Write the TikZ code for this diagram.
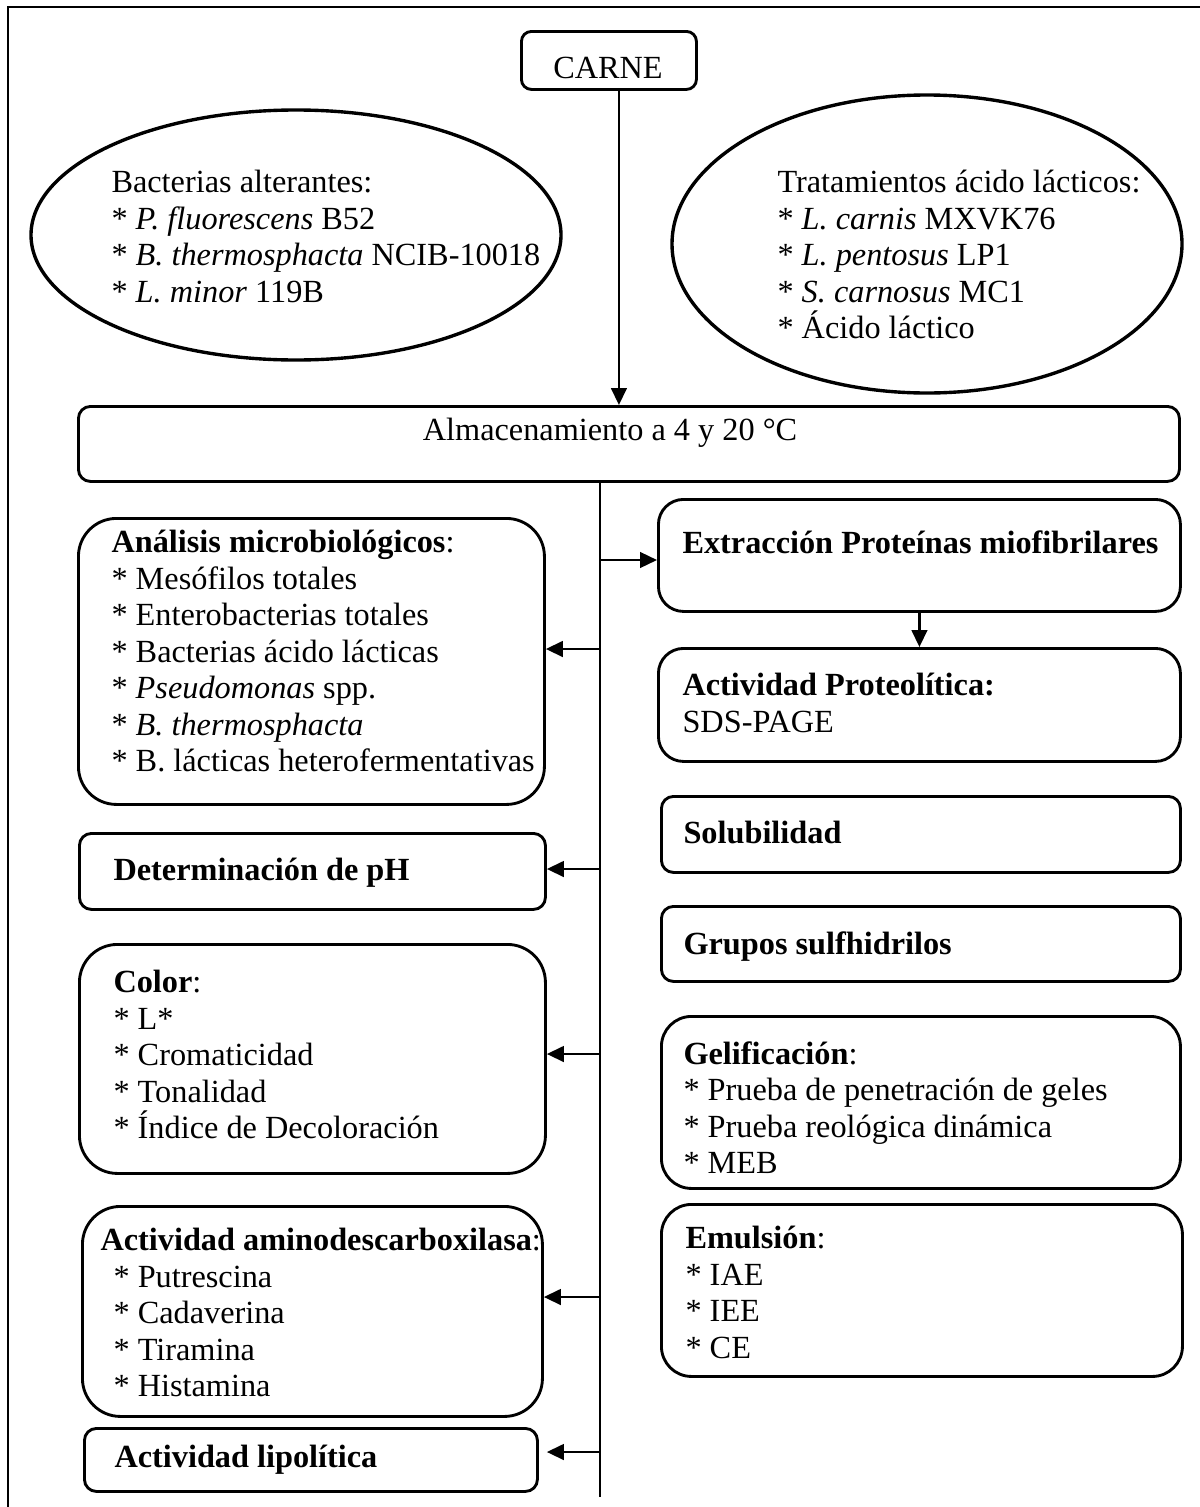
\documentclass[tikz,border=0pt]{standalone}
\usepackage{fontspec}
\setmainfont{Liberation Serif}
\usetikzlibrary{shapes.geometric,arrows.meta,positioning}
\newlength\pxu
\setlength\pxu{0.384pt}
\tikzset{
  caja/.style={draw, line width=1.1pt, rounded corners=#1, inner sep=0pt, anchor=north west},
  caja/.default=12\pxu,
  texto/.style={anchor=north west, align=left, inner sep=0pt, font=\fontsize{12.4}{14}\selectfont},
  flecha/.style={-{Triangle[length=6.5pt,width=6pt]}, line width=0.9pt},
  linea/.style={line width=1.1pt}
}

\begin{document}
\begin{tikzpicture}[x=0.384pt, y=-0.384pt]
    \useasboundingbox (0,0) rectangle (1200,1507);
    % Marco
    \draw[line width=0.8pt] (8,1507) -- (8,7) -- (1200,7);

    % Origen y tratamientos
    \node[caja=10\pxu, minimum width=175\pxu, minimum height=58\pxu] (carne) at (520,30) {};
    \node[texto, anchor=center] (carneT) at (608,68) {CARNE};
    \node[draw, ellipse, line width=1.3pt, inner sep=0pt, minimum width=530\pxu, minimum height=250\pxu] (alterantes) at (296,235) {};
    \node[texto] (alterantesT) at (111,170) {Bacterias alterantes:\\
        * \textit{P. fluorescens} B52\\
        * \textit{B. thermosphacta} NCIB-10018\\
        * \textit{L. minor} 119B};
    \node[draw, ellipse, line width=1.3pt, inner sep=0pt, minimum width=510\pxu, minimum height=298\pxu] (tratamientos) at (927,244) {};
    \node[texto] (tratamientosT) at (777,170) {Tratamientos ácido lácticos:\\
        * \textit{L. carnis} MXVK76\\
        * \textit{L. pentosus} LP1\\
        * \textit{S. carnosus} MC1\\
        * Ácido láctico};

    % Almacenamiento
    \node[caja, minimum width=1101\pxu, minimum height=75\pxu] (almacen) at (77,405) {};
    \node[texto, anchor=center] (almacenT) at (610,433) {Almacenamiento a 4 y 20 °C};
    \draw[flecha] ([xshift=10\pxu]carne.south) -- ([xshift=10\pxu]carne.south |- almacen.north);

    % Columna izquierda
    \node[caja=38\pxu, minimum width=466\pxu, minimum height=286\pxu] (analisis) at (77,517) {};
    \node[texto] (analisisT) at (111,530) {\textbf{Análisis microbiológicos}:\\
        * Mesófilos totales\\
        * Enterobacterias totales\\
        * Bacterias ácido lácticas\\
        * \textit{Pseudomonas} spp.\\
        * \textit{B. thermosphacta}\\
        * B. lácticas heterofermentativas};
    \node[caja, minimum width=466\pxu, minimum height=76\pxu] (ph) at (78,832) {};
    \node[texto] (phT) at (113,858) {\textbf{Determinación de pH}};
    \node[caja=38\pxu, minimum width=466\pxu, minimum height=229\pxu] (color) at (78,943) {};
    \node[texto] (colorT) at (113,970) {\textbf{Color}:\\
        * L*\\
        * Cromaticidad\\
        * Tonalidad\\
        * Índice de Decoloración};
    \node[caja=38\pxu, minimum width=460\pxu, minimum height=210\pxu] (amino) at (81,1205) {};
    \node[texto] (aminoT) at (100,1228) {\textbf{Actividad aminodescarboxilasa}:\\
        \hspace*{5pt}* Putrescina\\
        \hspace*{5pt}* Cadaverina\\
        \hspace*{5pt}* Tiramina\\
        \hspace*{5pt}* Histamina};
    \node[caja, minimum width=453\pxu, minimum height=63\pxu] (lipolitica) at (83,1427) {};
    \node[texto] (lipoliticaT) at (114,1445) {\textbf{Actividad lipolítica}};

    % Columna derecha
    \node[caja=25\pxu, minimum width=522\pxu, minimum height=112\pxu] (extraccion) at (657,498) {};
    \node[texto] (extraccionT) at (682,530) {\textbf{Extracción Proteínas miofibrilares}};
    \node[caja=25\pxu, minimum width=522\pxu, minimum height=113\pxu] (proteolitica) at (657,647) {};
    \node[texto] (proteoliticaT) at (682,673) {\textbf{Actividad Proteolítica:}\\
        SDS-PAGE};
    \node[caja, minimum width=519\pxu, minimum height=76\pxu] (solubilidad) at (660,795) {};
    \node[texto] (solubilidadT) at (683,821) {\textbf{Solubilidad}};
    \node[caja, minimum width=519\pxu, minimum height=75\pxu] (grupos) at (660,905) {};
    \node[texto] (gruposT) at (683,931) {\textbf{Grupos sulfhidrilos}};
    \node[caja=30\pxu, minimum width=519\pxu, minimum height=172\pxu] (gelificacion) at (660,1015) {};
    \node[texto] (gelificacionT) at (683,1041) {\textbf{Gelificación}:\\
        * Prueba de penetración de geles\\
        * Prueba reológica dinámica\\
        * MEB};
    \node[caja=30\pxu, minimum width=521\pxu, minimum height=172\pxu] (emulsion) at (660,1203) {};
    \node[texto] (emulsionT) at (685,1226) {\textbf{Emulsión}:\\
        * IAE\\
        * IEE\\
        * CE};

    % Tronco y ramas
    \coordinate (troncoFin) at (600,1497);
    \draw[linea] (almacen.south -| troncoFin) -- (troncoFin);
    \coordinate (e1) at (600,560);
    \coordinate (a1) at (600,649);
    \coordinate (p1) at (600,869);
    \coordinate (c1) at (600,1054);
    \coordinate (m1) at (600,1297);
    \coordinate (l1) at (600,1452);
    \draw[flecha] (e1) -- (e1 -| extraccion.west);
    \draw[flecha] (a1) -- (a1 -| analisis.east);
    \draw[flecha] (p1) -- (p1 -| ph.east);
    \draw[flecha] (c1) -- (c1 -| color.east);
    \draw[flecha] (m1) -- (m1 -| amino.east);
    \draw[flecha] (l1) -- ([xshift=8\pxu]l1 -| lipolitica.east);
    \draw[flecha] (extraccion.south) -- (proteolitica.north);
\end{tikzpicture}
\end{document}
